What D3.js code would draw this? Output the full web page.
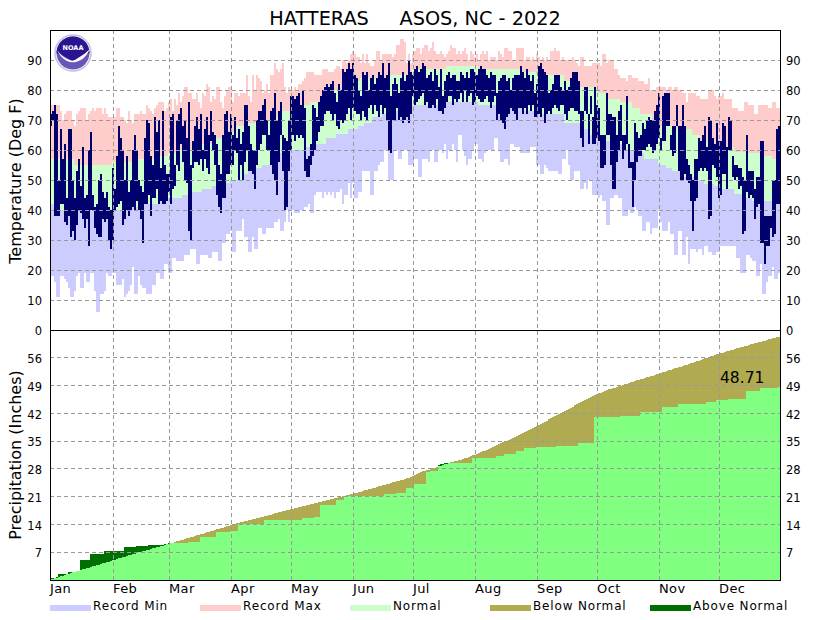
<!DOCTYPE html>
<html>
<head>
<meta charset="utf-8">
<script src="https://cdn.jsdelivr.net/npm/d3@7"></script>
<style>
  html, body { margin: 0; padding: 0; background: #fff; }
  svg { display: block; }
  text { font-family: "DejaVu Sans", sans-serif; fill: #000; }
</style>
</head>
<body>
<svg id="chart" width="830" height="620"></svg>
<script>
// one line per month
const recMax = [
  75,75,72,75,75,73,70,72,73,73,73,70,68,72,73,74,74,74,70,72,73,74,73,74,74,74,72,74,72,71,71,
  71,71,74,74,71,71,70,69,73,70,69,72,72,72,73,72,72,75,74,73,72,74,75,76,76,76,73,74,
  76,77,73,77,75,79,76,78,81,81,79,79,77,77,79,76,74,79,78,82,81,76,78,77,81,81,76,74,78,80,81,
  81,76,79,79,78,79,79,79,85,78,76,85,80,85,84,83,79,80,82,79,85,85,89,87,86,87,89,81,79,81,
  80,80,81,80,82,82,83,84,86,86,86,86,85,85,85,85,87,87,87,86,86,86,87,88,88,87,90,90,89,90,92,
  93,92,91,91,89,92,89,92,89,88,88,90,93,93,90,92,92,92,92,92,91,92,95,95,97,97,96,89,92,89,
  92,93,94,94,92,94,95,95,93,94,96,93,92,92,93,92,91,92,93,95,94,94,92,93,92,93,94,92,90,93,92,
  91,92,90,92,93,92,93,90,91,91,91,90,93,92,91,94,94,93,93,90,90,94,94,94,94,90,91,91,90,91,90,
  92,91,90,91,90,91,90,93,93,94,93,93,90,91,90,90,90,90,91,90,89,88,91,91,88,88,88,88,89,89,
  89,89,88,92,92,89,90,90,90,87,87,85,84,84,84,83,85,85,84,84,84,83,83,83,82,82,84,80,80,80,81,
  81,81,81,81,80,81,81,80,81,81,80,80,79,79,76,79,79,79,79,78,78,77,77,77,77,80,80,80,78,77,
  78,78,79,77,77,77,77,74,74,74,73,73,73,76,76,75,75,75,72,72,75,75,75,75,75,74,74,76,76,74,74
];
const recMin = [
  18,18,16,11,11,18,18,17,16,14,11,11,13,18,19,14,14,19,16,16,19,19,13,6,6,12,12,13,19,18,18,
  19,19,15,15,15,17,11,12,13,15,21,12,12,18,15,14,14,12,12,12,15,15,19,19,17,17,22,22,
  19,19,24,24,23,23,23,23,25,25,25,27,27,27,22,22,25,25,25,25,24,24,26,26,26,23,23,29,29,32,32,
  33,26,26,33,33,33,37,31,31,26,26,31,27,27,34,34,32,32,34,34,34,34,36,36,37,33,33,36,40,36,
  40,40,39,39,39,40,40,41,41,42,39,39,45,46,46,46,44,46,45,46,45,46,44,46,46,47,42,45,45,49,44,
  49,44,44,46,46,53,53,53,53,45,45,53,53,55,56,56,60,60,50,50,50,60,60,57,57,60,60,60,55,55,
  55,57,57,51,51,57,57,57,56,60,60,56,56,60,60,59,62,57,60,60,62,60,56,65,65,60,58,55,57,57,60,
  62,62,57,57,56,59,60,60,60,60,64,64,60,56,56,57,57,55,62,62,61,61,61,59,59,59,59,59,61,61,61,
  55,55,52,52,55,54,53,53,53,53,53,52,52,57,57,60,55,50,50,53,53,53,47,47,49,47,50,50,45,45,
  45,44,45,43,43,35,35,44,44,45,45,44,44,38,38,38,40,39,39,41,40,38,38,33,33,36,36,32,34,34,34,
  40,36,33,33,33,36,32,32,25,25,33,33,25,25,31,22,27,27,27,26,27,27,25,28,28,26,26,25,25,26,
  26,28,28,28,28,28,28,28,28,24,24,19,19,19,25,25,24,23,23,18,18,22,12,12,16,18,18,21,17,17,19
];
const obsHigh = [
  72,73,75,72,50,67,57,62,44,67,67,50,44,53,57,48,61,44,45,60,66,45,41,42,50,52,46,44,46,41,40,
  54,47,58,68,64,60,50,58,46,50,60,65,60,50,48,46,64,70,69,58,55,71,66,70,54,73,55,52,
  52,71,72,55,70,72,74,68,70,64,76,55,63,68,71,67,72,60,67,71,65,73,66,65,62,55,52,65,72,73,66,
  72,65,71,64,67,62,66,75,75,68,62,60,60,70,73,73,75,77,70,65,73,74,79,70,73,76,65,64,63,70,
  78,78,77,78,79,75,80,74,57,58,62,75,74,71,76,78,80,81,82,81,82,83,79,76,82,80,87,86,87,89,87,
  89,85,84,80,78,86,85,86,80,84,85,82,84,86,85,89,84,85,89,78,82,84,82,79,84,86,83,85,90,86,
  85,87,88,86,87,89,88,84,85,86,83,87,85,81,87,78,83,85,86,84,85,85,83,83,86,85,84,86,84,87,87,
  86,85,87,88,87,87,85,84,86,85,85,79,83,84,85,85,83,84,80,84,85,85,85,88,86,84,87,85,83,85,79,
  82,88,89,87,86,85,79,80,82,85,85,85,81,80,83,80,81,84,86,86,86,83,73,73,81,81,72,78,71,81,
  75,74,65,65,65,79,72,72,71,71,65,73,75,65,65,78,62,56,56,69,66,64,65,69,67,70,71,70,70,73,75,
  79,64,78,79,79,79,65,68,68,75,68,68,75,68,57,55,52,50,57,57,64,63,65,68,61,71,70,64,62,69,
  63,63,69,68,61,71,70,58,55,55,54,54,51,50,65,53,53,53,47,51,51,63,63,38,38,38,38,50,50,67,68
];
const obsLow = [
  68,70,38,38,38,42,42,36,35,38,31,33,30,35,40,39,37,34,37,28,40,40,34,32,31,31,37,36,37,30,27,
  30,40,41,42,43,35,37,40,38,40,41,40,43,40,37,29,42,42,45,38,44,44,47,42,43,42,42,43,
  46,42,47,48,55,53,62,56,50,49,33,30,54,56,56,55,57,53,57,54,52,63,60,55,45,41,39,44,44,52,52,
  55,55,60,59,50,55,50,56,60,53,53,52,47,55,60,62,65,65,60,60,55,52,50,45,56,65,53,40,41,53,
  60,65,63,65,64,65,64,53,51,51,55,58,60,63,66,68,68,72,73,73,72,70,72,68,67,70,69,70,72,74,70,
  74,73,72,72,70,73,71,70,74,75,72,75,73,71,75,72,74,70,60,59,70,70,74,70,71,69,70,71,69,72,
  78,75,76,77,78,79,75,76,74,74,75,74,77,73,73,72,74,76,78,78,75,77,76,77,79,76,80,76,78,79,75,
  76,78,77,76,76,77,78,76,74,76,78,70,72,70,69,67,71,72,74,73,72,70,74,74,72,74,72,75,73,75,71,
  71,72,71,74,69,72,73,72,74,75,74,73,75,75,72,70,73,74,74,73,73,72,64,61,73,72,62,72,62,62,
  64,63,54,54,55,65,65,55,47,47,56,60,63,57,60,62,54,54,41,50,56,58,58,60,60,61,62,61,59,60,62,
  64,60,63,63,68,68,60,58,59,68,53,50,50,52,50,49,43,33,43,44,53,54,53,54,53,37,38,55,54,51,
  44,45,52,52,47,60,60,51,50,51,47,48,32,33,46,44,45,44,37,41,42,29,29,22,28,28,34,31,32,42,42
];

// normals are flat for a stretch of days, so first day of each stretch + its value
const normHighDays = [0,12,31,42,52,59,65,71,75,82,87,92,99,104,110,115,120,125,130,136,141,146,152,155,168,181,198,214,235,243,257,265,274,278,285,291,295,301,305,311,321,325,331,336,342,349,355,361];
const normHighVals = [57,55,56,57,58,59,60,61,62,64,66,68,69,70,71,73,74,75,76,79,80,82,83,84,85,87,88,87,86,85,83,81,79,77,76,74,72,70,68,67,65,63,62,61,59.5,59,58,57];
const normLowDays = [0,4,39,47,55,59,66,71,76,81,85,90,96,99,103,106,112,115,120,127,133,138,143,149,154,157,161,166,169,181,198,214,224,236,244,257,265,270,275,282,288,292,297,304,308,311,316,322,327,332,336,342,346,351];
const normLowVals = [42,40,41,42,43,44,45,46,47,48,49,50,52,53,54,55,57,59,60,61,62,64,65.5,67,68,69,71,72,73,75,76,75,74,73,72,69,67,65,63,62,60,59,57,55,54,53,51,50,48.7,48,47,45.5,44,43];

const normPrecip = [
  0.15,0.3,0.45,0.6,0.8,0.95,1.1,1.25,1.4,1.55,1.7,1.9,2.05,2.2,2.35,2.5,2.65,2.8,3.0,3.15,3.3,3.45,3.6,3.75,3.9,4.05,4.2,4.35,4.5,4.65,4.85,
  5.0,5.15,5.3,5.45,5.6,5.75,5.9,6.05,6.2,6.35,6.5,6.65,6.8,6.95,7.1,7.25,7.35,7.5,7.65,7.8,7.95,8.1,8.25,8.4,8.5,8.65,8.8,8.95,
  9.15,9.3,9.45,9.6,9.75,9.9,10.05,10.2,10.35,10.5,10.65,10.8,10.95,11.1,11.25,11.4,11.55,11.7,11.85,12.0,12.15,12.3,12.45,12.6,12.75,12.9,13.05,13.2,13.35,13.5,13.65,
  13.8,13.95,14.1,14.25,14.4,14.5,14.65,14.8,14.95,15.05,15.2,15.35,15.45,15.6,15.75,15.85,16.0,16.15,16.25,16.4,16.5,16.65,16.8,16.9,17.05,17.2,17.3,17.45,17.55,17.7,
  17.85,17.95,18.1,18.2,18.35,18.45,18.6,18.75,18.85,19.0,19.1,19.25,19.35,19.5,19.6,19.75,19.85,20.0,20.1,20.25,20.35,20.5,20.6,20.75,20.85,21.0,21.1,21.25,21.35,21.5,21.6,
  21.75,21.9,22.0,22.15,22.3,22.45,22.6,22.75,22.85,23.0,23.15,23.3,23.45,23.6,23.75,23.85,24.0,24.15,24.3,24.45,24.6,24.7,24.85,25.0,25.15,25.3,25.45,25.6,25.75,25.95,
  26.2,26.5,26.75,27.0,27.2,27.35,27.5,27.65,27.8,27.95,28.1,28.3,28.5,28.7,28.85,29.05,29.2,29.35,29.5,29.65,29.75,29.9,30.05,30.2,30.35,30.5,30.65,30.85,31.05,31.25,31.45,
  31.6,31.8,32.0,32.2,32.4,32.6,32.85,33.05,33.3,33.5,33.75,34.0,34.2,34.45,34.7,34.95,35.15,35.4,35.65,35.9,36.1,36.35,36.6,36.85,37.05,37.3,37.55,37.8,38.05,38.3,38.55,
  38.8,39.05,39.35,39.6,39.9,40.15,40.45,40.7,41.0,41.3,41.55,41.85,42.1,42.4,42.65,42.9,43.2,43.45,43.7,44.0,44.25,44.5,44.75,45.0,45.25,45.5,45.75,46.0,46.3,46.55,
  46.8,47.0,47.25,47.45,47.65,47.85,48.05,48.2,48.35,48.5,48.7,48.85,49.0,49.2,49.35,49.5,49.65,49.85,50.0,50.15,50.3,50.45,50.6,50.75,50.9,51.05,51.2,51.35,51.5,51.65,51.8,
  51.95,52.1,52.3,52.45,52.6,52.8,52.95,53.1,53.3,53.45,53.65,53.8,53.95,54.15,54.3,54.45,54.65,54.8,55.0,55.15,55.3,55.5,55.65,55.85,56.0,56.15,56.35,56.5,56.65,56.85,
  57.0,57.15,57.3,57.45,57.6,57.75,57.9,58.05,58.2,58.35,58.45,58.6,58.75,58.9,59.05,59.2,59.35,59.5,59.65,59.75,59.9,60.05,60.2,60.35,60.5,60.65,60.8,60.95,61.1,61.2,61.35
];
// rain gauge total only changes on rain days: day it changed + new running total
const rainDays = [0,3,4,9,13,15,20,27,37,43,49,57,59,69,75,83,90,94,107,126,132,135,143,147,167,173,178,182,188,190,194,195,197,211,223,227,233,237,243,253,264,272,285,295,306,314,328,333,339,348,355,364];
const rainTotals = [0.4,0.84,1.5,1.9,2.35,5.04,6.55,7.3,8.3,8.55,8.8,9.07,9.24,9.66,10.9,12.2,12.43,14.0,15.1,15.5,15.8,18.9,20.2,21.1,21.7,22.0,23.1,24.2,27.3,27.55,29.0,29.2,29.6,30.7,31.25,31.75,32.5,33.2,33.4,33.8,34.6,41.0,41.3,42.3,43.5,44.35,44.9,45.4,45.7,47.7,48.45,48.71];

const months = ['Jan','Feb','Mar','Apr','May','Jun','Jul','Aug','Sep','Oct','Nov','Dec'];
const monthStarts = [0,31,59,90,120,151,181,212,243,273,304,334];
const tempTicks = [0,10,20,30,40,50,60,70,80,90];
const precipTicks = [7,14,21,28,35,42,49,56];
const legendItems = [
  { label: 'Record Min', color: '#ccccff', x: 50 },
  { label: 'Record Max', color: '#ffcccc', x: 200 },
  { label: 'Normal', color: '#ccffcc', x: 350 },
  { label: 'Below Normal', color: '#b0aa50', x: 490 },
  { label: 'Above Normal', color: '#006e00', x: 650 }
];

const stepAt = (days, vals, d) => vals[d3.bisectRight(days, d) - 1];

const svg = d3.select('#chart');
const days = d3.range(365);

const x = d3.scaleLinear().domain([0, 365]).range([50, 780]);
const yT = d3.scaleLinear().domain([0, 100]).range([330, 30]);
const yP = d3.scaleLinear().domain([0, 63]).range([580, 330]);
const gridX = d => x(d) + 1;

function bars(cls, color, top, bottom, y) {
  svg.append('g').attr('class', cls).attr('fill', color).attr('shape-rendering', 'crispEdges')
    .selectAll('rect').data(days).join('rect')
    .attr('x', d => x(d)).attr('width', x(1) - x(0))
    .attr('y', d => y(top(d)))
    .attr('height', d => Math.max(0, y(bottom(d)) - y(top(d))));
}

// temperature panel
bars('rec-max', '#ffcccc', d => recMax[d], d => stepAt(normHighDays, normHighVals, d), yT);
bars('rec-min', '#ccccff', d => stepAt(normLowDays, normLowVals, d), d => recMin[d], yT);
bars('normal', '#ccffcc', d => stepAt(normHighDays, normHighVals, d), d => stepAt(normLowDays, normLowVals, d), yT);
bars('observed', '#00006e', d => obsHigh[d], d => obsLow[d], yT);

// precipitation panel
const rain = d => stepAt(rainDays, rainTotals, d);
bars('rain', '#80ff80', rain, () => 0, yP);
bars('below', '#b0aa50', d => normPrecip[d], rain, yP);
bars('above', '#006e00', rain, d => normPrecip[d], yP);

// grid lines sit over the fills
const grid = svg.append('g').attr('stroke', '#999').attr('stroke-dasharray', '4,3').attr('shape-rendering', 'crispEdges');
grid.selectAll('.vx').data(monthStarts.slice(1)).join('line').attr('class', 'vx')
  .attr('x1', gridX).attr('x2', gridX).attr('y1', 30).attr('y2', 580);
grid.selectAll('.ht').data(tempTicks.slice(1)).join('line').attr('class', 'ht')
  .attr('x1', 50).attr('x2', 780).attr('y1', d => yT(d)).attr('y2', d => yT(d));
grid.selectAll('.hp').data(precipTicks).join('line').attr('class', 'hp')
  .attr('x1', 50).attr('x2', 780).attr('y1', d => yP(d)).attr('y2', d => yP(d));

// frame
svg.append('rect').attr('x', 50.5).attr('y', 30.5).attr('width', 729.5).attr('height', 549.5)
  .attr('fill', 'none').attr('stroke', '#000').attr('shape-rendering', 'crispEdges');
svg.append('line').attr('x1', 50).attr('x2', 780).attr('y1', 330.5).attr('y2', 330.5)
  .attr('stroke', '#000').attr('shape-rendering', 'crispEdges');

function tickAxis(axis, tx) {
  const g = svg.append('g').attr('transform', `translate(${tx},1)`).call(axis);
  g.select('.domain').remove();
  g.selectAll('line').remove();
  g.selectAll('text').style('font-family', '"DejaVu Sans"').style('font-size', '11.5px').attr('fill', '#000');
}
tickAxis(d3.axisLeft(yT).tickValues(tempTicks).tickSize(0).tickPadding(0), 42);
tickAxis(d3.axisRight(yT).tickValues(tempTicks).tickSize(0).tickPadding(0), 786);
tickAxis(d3.axisLeft(yP).tickValues(precipTicks).tickSize(0).tickPadding(0), 42);
tickAxis(d3.axisRight(yP).tickValues(precipTicks).tickSize(0).tickPadding(0), 786);

// month labels start at their grid line
svg.append('g').selectAll('text').data(months).join('text')
  .attr('x', (d, i) => i === 0 ? 50 : gridX(monthStarts[i]))
  .attr('y', 593).style('font-size', '13px').style('letter-spacing', '0.4px').text(d => d);

svg.append('text').attr('x', 415).attr('y', 25).attr('text-anchor', 'middle')
  .style('font-size', '19.3px').style('white-space', 'pre').text('HATTERAS     ASOS, NC - 2022');
svg.append('text').attr('transform', 'translate(21,181) rotate(-90)').attr('text-anchor', 'middle')
  .style('font-size', '16px').text('Temperature (Deg F)');
svg.append('text').attr('transform', 'translate(21,455) rotate(-90)').attr('text-anchor', 'middle')
  .style('font-size', '16px').text('Precipitation (Inches)');
svg.append('text').attr('x', 720).attr('y', 383).style('font-size', '15.5px').text('48.71');

// legend
const legend = svg.append('g').selectAll('g').data(legendItems).join('g');
legend.append('rect').attr('x', d => d.x).attr('y', 605).attr('width', 41).attr('height', 6).attr('fill', d => d.color);
legend.append('text').attr('x', d => d.x + 43).attr('y', 610).style('font-size', '12px').style('letter-spacing', '0.85px').text(d => d.label);

// NOAA roundel
const logo = svg.append('g').attr('transform', 'translate(73,53)');
logo.append('circle').attr('r', 18).attr('fill', '#fff').attr('stroke', '#c4c0e4').attr('stroke-width', 1.5);
logo.append('circle').attr('r', 16.5).attr('fill', '#6a56b8');
logo.append('path').attr('d', 'M-16.5,0 A16.5,16.5 0 0 1 16.5,0 Q8,3 3,7 Q0,9 -3,7 Q-8,3 -16.5,0 Z').attr('fill', '#2a1490');
logo.append('path').attr('d', 'M-16,-3 Q-10,5 -3,7 Q0,9 5,5 Q11,2 17,-4 Q12,7 3,9 Q-2,10 -6,8 Q-12,5 -16,-3 Z').attr('fill', '#fff');
logo.append('text').attr('x', 0).attr('y', -3.5).attr('text-anchor', 'middle').style('font-size', '6.5px').style('font-weight', 'bold').style('fill', '#fff').text('NOAA');
</script>
</body>
</html>
